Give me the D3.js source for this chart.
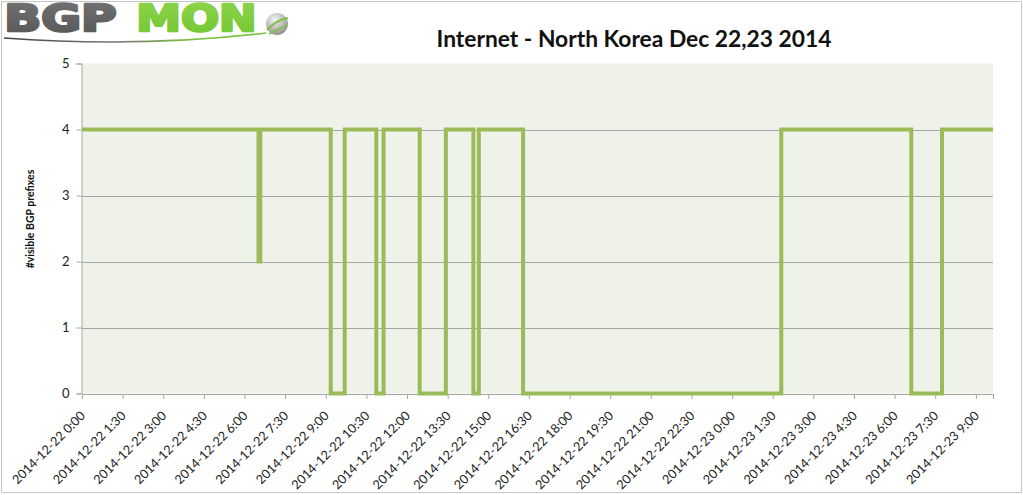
<!DOCTYPE html>
<html>
<head>
<meta charset="utf-8">
<script src="https://cdn.jsdelivr.net/npm/d3@7"></script>
<style>
  html, body { margin: 0; padding: 0; background: #fff; }
  svg { display: block; }
</style>
</head>
<body>
<svg id="chart" width="1023" height="495"></svg>
<script>
// ---- data ----
const times = [
  "2014-12-22 00:00", "2014-12-22 06:31", "2014-12-22 06:35",
  "2014-12-22 09:11", "2014-12-22 09:42", "2014-12-22 10:52",
  "2014-12-22 11:08", "2014-12-22 12:28", "2014-12-22 13:26",
  "2014-12-22 14:27", "2014-12-22 14:39", "2014-12-22 16:17",
  "2014-12-23 01:49", "2014-12-23 06:37", "2014-12-23 07:45",
  "2014-12-23 09:38"
];
const prefixes = [4, 2, 4, 0, 4, 0, 4, 0, 4, 0, 4, 0, 4, 0, 4, 4];
const xTickLabels = [
  "2014-12-22 0:00", "2014-12-22 1:30", "2014-12-22 3:00", "2014-12-22 4:30",
  "2014-12-22 6:00", "2014-12-22 7:30", "2014-12-22 9:00", "2014-12-22 10:30",
  "2014-12-22 12:00", "2014-12-22 13:30", "2014-12-22 15:00", "2014-12-22 16:30",
  "2014-12-22 18:00", "2014-12-22 19:30", "2014-12-22 21:00", "2014-12-22 22:30",
  "2014-12-23 0:00", "2014-12-23 1:30", "2014-12-23 3:00", "2014-12-23 4:30",
  "2014-12-23 6:00", "2014-12-23 7:30", "2014-12-23 9:00"
];
const yTicks = [0, 1, 2, 3, 4, 5];
const titleText = "Internet - North Korea Dec 22,23 2014";
const yLabelText = "#visible BGP prefixes";

(function () {
// ---- setup ----
const parse = d3.timeParse("%Y-%m-%d %H:%M");
const data = times.map((t, i) => ({ t: parse(t), v: prefixes[i] }));
const tickDates = xTickLabels.map(s => parse(s));

const svg = d3.select("#chart");
const pLeft = 82, pRight = 993, pTop = 63.5, pBottom = 393.5;

const x = d3.scaleTime().domain([data[0].t, data[data.length - 1].t]).range([pLeft, pRight]);
const y = d3.scaleLinear().domain([0, 5]).range([pBottom, pTop]);

// outer border
svg.append("rect").attr("x", 1.5).attr("y", 1.5).attr("width", 1020).attr("height", 491)
  .attr("fill", "#fff").attr("stroke", "#c8c8c8").attr("stroke-width", 1);

// plot background
svg.append("rect").attr("x", pLeft).attr("y", pTop).attr("width", pRight - pLeft).attr("height", pBottom - pTop)
  .attr("fill", "#eef2e8");

// gridlines
svg.append("g").selectAll("line").data(yTicks.filter(d => d > 0 && d < 5)).join("line")
  .attr("x1", pLeft).attr("x2", pRight)
  .attr("y1", d => Math.round(y(d)) + 0.5).attr("y2", d => Math.round(y(d)) + 0.5)
  .attr("stroke", "#a6a6a6").attr("stroke-width", 1);

// y axis
const yAxis = d3.axisLeft(y).tickValues(yTicks).tickSize(5).tickPadding(7).tickFormat(d3.format("d"));
const gy = svg.append("g").attr("transform", `translate(${pLeft - 0.5},0)`).call(yAxis);
gy.select(".domain").attr("stroke", "#a6a6a6");
gy.selectAll(".tick line").attr("stroke", "#a6a6a6");
gy.selectAll(".tick text").attr("font-family", "Lato, 'Open Sans', sans-serif")
  .attr("font-size", 13).attr("fill", "#222");

// x axis
const xAxis = d3.axisBottom(x).tickValues(tickDates).tickSize(5).tickFormat((d, i) => xTickLabels[i]);
const gx = svg.append("g").attr("transform", `translate(0,${pBottom + 0.5})`).call(xAxis);
gx.select(".domain").attr("stroke", "#a6a6a6");
gx.selectAll(".tick line").attr("stroke", "#a6a6a6");
gx.selectAll(".tick text")
  .attr("font-family", "Lato, 'Open Sans', sans-serif").attr("font-size", 12.7).attr("fill", "#222")
  .attr("text-anchor", "end").attr("dy", 0).attr("y", 0)
  .attr("transform", "translate(3.5,22.5) rotate(-45)");

// step line
const line = d3.line().x(d => x(d.t)).y(d => y(d.v)).curve(d3.curveStepAfter);
svg.append("path").datum(data).attr("d", line)
  .attr("fill", "none").attr("stroke", "#9bbb59").attr("stroke-width", 4)
  .attr("stroke-linejoin", "miter");

// title
svg.append("text").attr("x", 634).attr("y", 47).attr("text-anchor", "middle")
  .attr("font-family", "Lato, 'Open Sans', sans-serif").attr("font-weight", "bold")
  .attr("font-size", 22.8).attr("fill", "#111").text(titleText);

// y label
svg.append("text").attr("transform", "translate(34,219) rotate(-90)").attr("text-anchor", "middle")
  .attr("font-family", "Lato, 'Open Sans', sans-serif").attr("font-weight", "bold")
  .attr("font-size", 10.5).attr("fill", "#111").text(yLabelText);

// logo
const logo = svg.append("g");
const defs = svg.append("defs");
const gg = defs.append("linearGradient").attr("id", "gray").attr("x1", 0).attr("y1", 0).attr("x2", 0).attr("y2", 1);
gg.append("stop").attr("offset", "0%").attr("stop-color", "#747474");
gg.append("stop").attr("offset", "100%").attr("stop-color", "#555");
const gr = defs.append("linearGradient").attr("id", "green").attr("x1", 0).attr("y1", 0).attr("x2", 0).attr("y2", 1);
gr.append("stop").attr("offset", "0%").attr("stop-color", "#8ed54a");
gr.append("stop").attr("offset", "100%").attr("stop-color", "#72c532");
const ball = defs.append("radialGradient").attr("id", "ball").attr("cx", "40%").attr("cy", "30%").attr("r", "75%");
ball.append("stop").attr("offset", "0%").attr("stop-color", "#f2f2f2");
ball.append("stop").attr("offset", "55%").attr("stop-color", "#bdbdbd");
ball.append("stop").attr("offset", "100%").attr("stop-color", "#8a8a8a");
const sw = defs.append("linearGradient").attr("id", "swoosh").attr("gradientUnits", "userSpaceOnUse")
  .attr("x1", 4).attr("y1", 0).attr("x2", 265).attr("y2", 0);
sw.append("stop").attr("offset", "0%").attr("stop-color", "#444");
sw.append("stop").attr("offset", "45%").attr("stop-color", "#7a7a7a");
sw.append("stop").attr("offset", "70%").attr("stop-color", "#7dc242");
sw.append("stop").attr("offset", "100%").attr("stop-color", "#7dc242");

function fitText(txt, x0, width, fill) {
  const t = logo.append("text").attr("x", 0).attr("y", 0)
    .attr("font-family", "'DejaVu Sans', sans-serif").attr("font-weight", "bold")
    .attr("font-size", 36.5).attr("fill", fill)
    .attr("stroke", fill).attr("stroke-width", 2.6).attr("stroke-linejoin", "round")
    .text(txt);
  const w = t.node().getComputedTextLength();
  t.attr("transform", `translate(${x0 + 1.3},31) scale(${(width - 2.6) / w},1)`);
}
fitText("BGP", 3, 115, "url(#gray)");
fitText("MON", 135, 123, "url(#green)");

logo.append("path").attr("d", "M4,38 Q140,48 266,33")
  .attr("fill", "none").attr("stroke", "url(#swoosh)").attr("stroke-width", 1.6);
logo.append("circle").attr("cx", 277).attr("cy", 24).attr("r", 11).attr("fill", "url(#ball)");
logo.append("path").attr("d", "M267,30 Q276,20 288,18").attr("fill", "none").attr("stroke", "#7dc242").attr("stroke-width", 2);
logo.append("path").attr("d", "M269,34 Q280,28 287,25").attr("fill", "none").attr("stroke", "#7dc242").attr("stroke-width", 1.5);
})();
</script>
</body>
</html>
